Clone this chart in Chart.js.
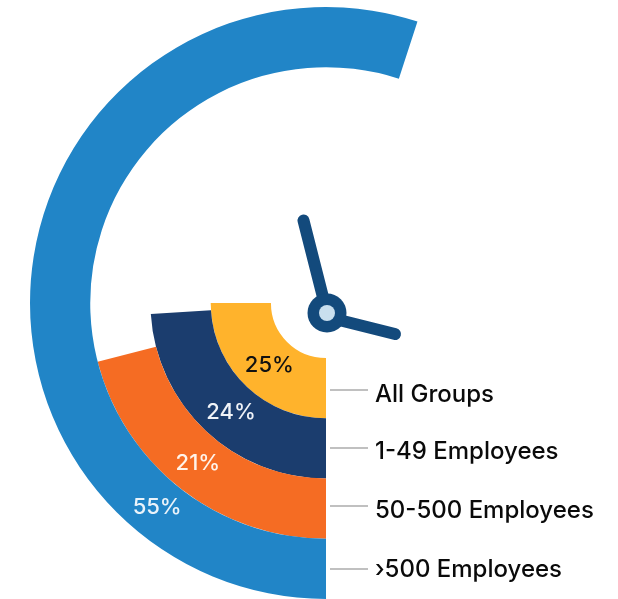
<!DOCTYPE html>
<html><head><meta charset="utf-8">
<style>html,body{margin:0;padding:0;background:#fff;overflow:hidden}#wrap{position:relative;width:618px;height:599px;overflow:hidden}canvas{display:block}</style>
<script src="https://cdn.jsdelivr.net/npm/chart.js@4"></script>
</head><body><div id="wrap"><canvas id="c" width="652" height="606"></canvas></div>
<script>
const groups = ['>500 Employees','50-500 Employees','1-49 Employees','All Groups'];
const tickLabels = ['›500 Employees','50-500 Employees','1-49 Employees','All Groups'];
const shares = [55,21,24,25];
const colors = ['#2185C7','#F56C23','#1B3D6E','#FFB32C'];
const textColors = ['#EAF3FA','#FFF3EA','#F0F3F8','#111111'];
const labelAngles = [39.7,38.9,41.3,42.6];
const leaderY = [569,506,448,390];
const baselineY = [577,518,459,402];

const overlay = {
  id:'overlay',
  afterDatasetsDraw(chart){
    const ctx = chart.ctx;
    ctx.save();
    groups.forEach((g,i)=>{
      const arc = chart.getDatasetMeta(i).data[0];
      const r = (arc.innerRadius+arc.outerRadius)/2;
      const a = labelAngles[i]*Math.PI/180;
      ctx.font = '500 22px Inter, sans-serif';
      ctx.fillStyle = textColors[i];
      ctx.textAlign='center'; ctx.textBaseline='middle';
      ctx.fillText(shares[i]+'%', arc.x - r*Math.sin(a) + 1, arc.y + r*Math.cos(a));
      ctx.strokeStyle='#ABABAB'; ctx.lineWidth=1.5;
      ctx.beginPath(); ctx.moveTo(330,leaderY[i]); ctx.lineTo(368,leaderY[i]); ctx.stroke();
      ctx.font = '500 24px Inter, sans-serif';
      ctx.fillStyle = '#0A0A0A';
      ctx.textAlign='left'; ctx.textBaseline='alphabetic';
      ctx.fillText(tickLabels[i], 375, baselineY[i]);
    });
    const cx=327, cy=313;
    ctx.strokeStyle='#134A7C'; ctx.lineCap='round'; ctx.lineWidth=12;
    ctx.beginPath(); ctx.moveTo(cx,cy); ctx.lineTo(303.5,220.5); ctx.moveTo(cx,317); ctx.lineTo(395,334); ctx.stroke();
    ctx.fillStyle='#134A7C'; ctx.beginPath(); ctx.arc(cx,cy,19.5,0,Math.PI*2); ctx.fill();
    ctx.fillStyle='#C9DFEE'; ctx.beginPath(); ctx.arc(cx,cy,8,0,Math.PI*2); ctx.fill();
    ctx.restore();
  }
};

new Chart(document.getElementById('c'),{
  type:'doughnut',
  data:{
    labels:['Share','Rest'],
    datasets:groups.map((g,i)=>({label:g,data:[shares[i],100-shares[i]],backgroundColor:[colors[i],'rgba(0,0,0,0)'],borderWidth:0}))
  },
  options:{
    responsive:false,animation:false,rotation:180,cutout:'18.6%',
    layout:{padding:{left:6,right:6,top:7,bottom:7}},
    plugins:{legend:{display:false},tooltip:{enabled:false}}
  },
  plugins:[overlay]
});
</script></body></html>
